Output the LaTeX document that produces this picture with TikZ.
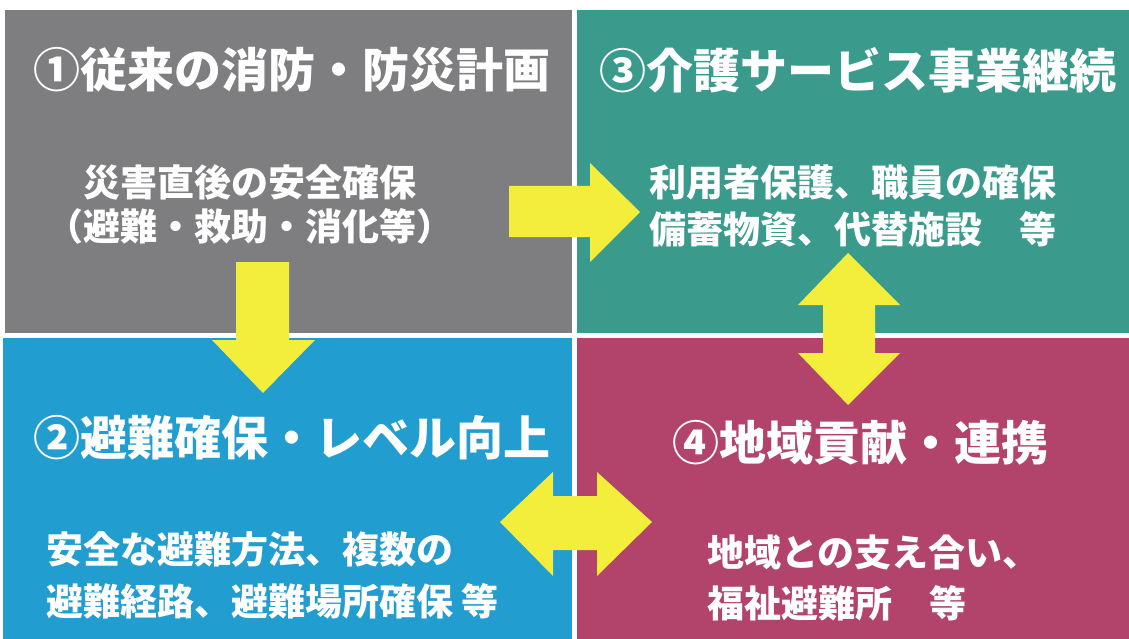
\documentclass[tikz,border=0pt]{standalone}
\usepackage{fontspec}
\newfontfamily\jp{Noto Sans CJK JP}
\definecolor{qgray}{HTML}{7E7E81}
\definecolor{qteal}{HTML}{3A9B8C}
\definecolor{qblue}{HTML}{229DCF}
\definecolor{qred}{HTML}{B2436A}
\definecolor{ayellow}{HTML}{F3EE3C}
\begin{document}
\begin{tikzpicture}[x=1pt,y=-1pt]
\tikzset{
 quad/.style={draw=none},
 ttl/.style={text=white, font=\jp\bfseries\fontsize{47}{50}\selectfont, inner sep=0pt},
 bodytext/.style={text=white, font=\jp\bfseries\fontsize{37}{44}\selectfont, inner sep=0pt},
 yarrow/.style={fill=ayellow, draw=none}
}
\fill[white] (0,0) rectangle (1129,639);
\useasboundingbox (0,0) rectangle (1129,639);
% quadrants
\fill[qgray] (5,10) rectangle (572,333);
\fill[qteal] (577,10) rectangle (1129,333);
\fill[qblue] (3,338) rectangle (572,639);
\fill[qred] (577,338) rectangle (1129,639);
% titles
\node[ttl] (t1) at (292,70) {①従来の消防・防災計画};
\node[ttl] (t3) at (858,70) {③介護サービス事業継続};
\node[ttl] (t2) at (292,438) {②避難確保・レベル向上};
\node[ttl] (t4) at (860,443) {④地域貢献・連携};
% bodies
\node[bodytext, align=center] (b1) at (250,204) {災害直後の安全確保\\（避難・救助・消化等）};
\node[bodytext, align=center, font=\jp\bfseries\fontsize{37}{47}\selectfont] (b3) at (853,206) {利用者保護、職員の確保\\備蓄物資、代替施設　等};
\node[bodytext, align=left, anchor=west, font=\jp\bfseries\fontsize{37}{52}\selectfont] (b2) at (46,575) {安全な避難方法、複数の\\避難経路、避難場所確保 等};
\node[bodytext, align=left, anchor=west, font=\jp\bfseries\fontsize{37}{51}\selectfont] (b4) at (707,578) {地域との支え合い、\\福祉避難所　等};
% arrows
\fill[yarrow] (509,186) -- (590,186) -- (590,163) -- (640,212) -- (590,262) -- (590,237) -- (509,237) -- cycle;
\fill[yarrow] (236,262) -- (289,262) -- (289,340) -- (315,340) -- (263,393) -- (212,340) -- (236,340) -- cycle;
\fill[yarrow] (500,522) -- (553,472) -- (553,496) -- (597,496) -- (597,472) -- (652,522) -- (597,576) -- (597,550) -- (553,550) -- (553,576) -- cycle;
\fill[yarrow] (848,253) -- (900,305) -- (875,305) -- (875,353) -- (900,353) -- (848,405) -- (798,353) -- (823,353) -- (823,305) -- (798,305) -- cycle;
\end{tikzpicture}
\end{document}
